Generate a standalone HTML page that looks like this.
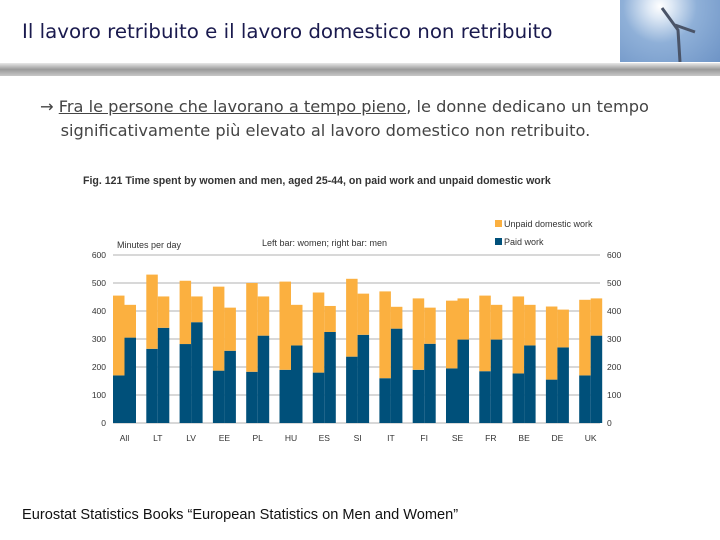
<!DOCTYPE html>
<html><head><meta charset="utf-8">
<style>
body{margin:0;width:720px;height:540px;overflow:hidden;background:#fff;font-family:"Liberation Sans",sans-serif;position:relative}
.a{position:absolute;white-space:nowrap}
</style></head><body>
<div class="a" style="left:22px;top:20px;color:#1a1a4e;font-family:'DejaVu Sans',sans-serif;font-size:19.8px">Il lavoro retribuito e il lavoro domestico non retribuito</div>
<div class="a" style="left:620px;top:0;width:100px;height:62px;background:radial-gradient(circle at 40% 10%,#fff 0,#dde8f5 15%,#8fb0d8 45%,#6e94c6 100%)">
<svg width="100" height="62"><path d="M42 8 L58 30 L60 62 M55 25 L75 32" stroke="#4a5468" stroke-width="3" fill="none"/></svg></div>
<div class="a" style="left:0;top:63px;width:720px;height:13px;background:linear-gradient(#e8e8e8,#9a9a9a 50%,#c8c8c8)"></div>
<div class="a" style="left:40px;top:95px;color:#444;line-height:24px;font-family:'DejaVu Sans',sans-serif;font-size:16.2px">→ <span style="text-decoration:underline">Fra le persone che lavorano a tempo pieno</span>, le donne dedicano un tempo<br>&nbsp;&nbsp;&nbsp;&nbsp;significativamente più elevato al lavoro domestico non retribuito.</div>
<svg class="a" style="left:0;top:0" width="720" height="540" id="chart">
<text x="83" y="184" font-size="10.6" font-weight="bold" fill="#333" font-family="Liberation Sans">Fig. 121   Time spent by women and men, aged 25-44, on paid work and unpaid domestic work</text>
<text x="117" y="248" font-size="9" fill="#333">Minutes per day</text>
<text x="262" y="246" font-size="9" fill="#333">Left bar: women; right bar: men</text>
<rect x="495" y="220" width="7" height="7" fill="#fbb040"/>
<text x="504" y="227" font-size="9" fill="#333">Unpaid domestic work</text>
<rect x="495" y="238" width="7" height="7" fill="#00507a"/>
<text x="504" y="245" font-size="9" fill="#333">Paid work</text>
<g id="g"></g>
</svg>
<div class="a" style="left:22px;top:507px;font-size:14.6px;color:#111">Eurostat Statistics Books  “European Statistics on Men and Women”</div>
<script>
const categories=["All","LT","LV","EE","PL","HU","ES","SI","IT","FI","SE","FR","BE","DE","UK"];
const womenPaid=[170,265,282,187,183,190,180,237,160,190,195,185,177,155,170];
const womenUnpaid=[285,265,226,300,317,315,286,278,310,255,242,270,275,261,270];
const menPaid=[305,340,360,258,312,277,325,315,337,283,298,298,277,270,312];
const menUnpaid=[117,112,92,154,140,145,93,147,78,129,147,124,145,135,133];
const ticks=[0,100,200,300,400,500,600];
const NS="http://www.w3.org/2000/svg",g=document.getElementById('g');
const y=v=>423-v*0.28, x0=113, pitch=33.3, bw=11.5;
function mk(t,a){const e=document.createElementNS(NS,t);for(const k in a)e.setAttribute(k,a[k]);g.appendChild(e);return e;}
ticks.forEach(t=>{
 let l=mk('line',{x1:x0,x2:600,y1:y(t),y2:y(t),stroke:'#999','stroke-width':0.7});
 
 
 let a=mk('text',{x:106,y:y(t)+3,'font-size':8.5,fill:'#333','text-anchor':'end'});a.textContent=t;
 
 
 let b=mk('text',{x:607,y:y(t)+3,'font-size':8.5,fill:'#333'});b.textContent=t;
 
 
});
categories.forEach((c,i)=>{
 const xs=x0+i*pitch;
 [[womenPaid[i],womenUnpaid[i],xs,'women'],[menPaid[i],menUnpaid[i],xs+bw,'men']].forEach(([p,u,x,s])=>{
  let r1=mk('rect',{x:x,y:y(p),width:bw,height:423-y(p),fill:'#00507a'});
  
  
  let r2=mk('rect',{x:x,y:y(p+u),width:bw,height:y(p)-y(p+u),fill:'#fbb040'});
  
  
 });
 let t=mk('text',{x:xs+bw,y:441,'font-size':8.5,fill:'#333','text-anchor':'middle'});t.textContent=c;
 
 
});
</script>
</body></html>
